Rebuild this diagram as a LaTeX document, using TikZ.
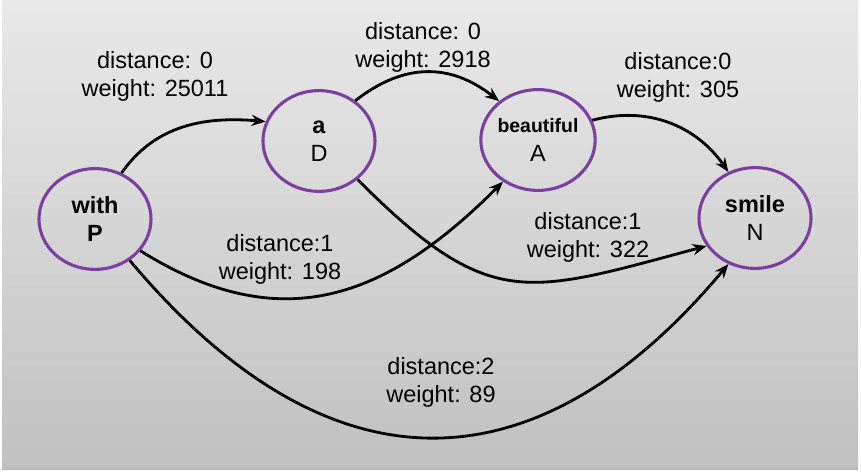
\documentclass[tikz,border=0pt]{standalone}
\usepackage{fontspec}
\setmainfont{Liberation Sans}
\usetikzlibrary{shapes.geometric, arrows.meta, positioning}
\definecolor{TagPurple}{RGB}{123, 63, 160}

\begin{document}
\begin{tikzpicture}[x=0.025cm, y=0.025cm,
    word/.style={ellipse, draw=TagPurple, line width=2.2pt, minimum width=2.8cm, minimum height=2.52cm, inner sep=0pt, align=center, font=\fontsize{16.7}{20}\selectfont},
    link/.style={-{Stealth[length=10pt, width=8pt]}, line width=2pt},
    info/.style={align=center, font=\fontsize{16.7}{20}\selectfont}]
    % 背景
    \useasboundingbox (0,0) rectangle (861,474);
    \fill[white] (0,0) rectangle (861,474);
    \shade[top color=gray!17, bottom color=gray!49] (2,5) rectangle (858,474);
    \draw[gray!60, line width=0.6pt] (2,5) -- (858,5);

    % 词节点
    \node[word] (with) at (95, 255) {\textbf{with}\\\textbf{P}};
    \node[word] (a) at (319, 333) {\textbf{a}\\D};
    \node[word] (beautiful) at (538, 334) {{\fontsize{13.8}{16}\selectfont\textbf{beautiful}}\\A};
    \node[word] (smile) at (755, 256) {\textbf{smile}\\N};

    % 相邻的边
    \draw[link] (with.60) to[out=55, in=175] (a.160);
    \draw[link] (a.48) to[out=38, in=142, looseness=1.1] (beautiful.135);
    \draw[link] (beautiful.20) to[out=15, in=125] (smile.120);

    % 跨越的边
    \draw[link] (with.-35) to[out=-32, in=225, looseness=1.15] (beautiful.230);
    \draw[link] (a.-45) to[out=-45, in=195, looseness=1.35] (smile.210);
    \draw[link] (with.-50) to[out=-50, in=230, looseness=1.3] (smile.240);

    % 标注
    \node[info] (l1) at (155, 398) {distance: 0\\weight: 25011};
    \node[info] (l2) at (423, 427) {distance: 0\\weight: 2918};
    \node[info] (l3) at (678, 397) {distance:0\\weight: 305};
    \node[info] (l4) at (280, 215) {distance:1\\weight: 198};
    \node[info] (l5) at (588, 237) {distance:1\\weight: 322};
    \node[info] (l6) at (441, 92) {distance:2\\weight: 89};
\end{tikzpicture}
\end{document}
